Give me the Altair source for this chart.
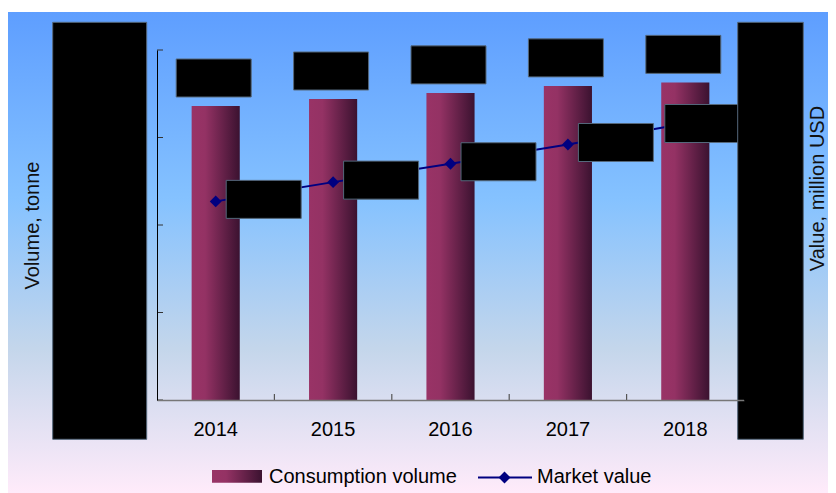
import altair as alt
import pandas as pd

# ---- data ----
years = ["2014", "2015", "2016", "2017", "2018"]
volume = [33600, 34400, 35100, 35900, 36300]      # Consumption volume, tonne
value = [227, 249, 270, 292, 316]                 # Market value, million USD
vol_ticks = [0, 10000, 20000, 30000, 40000]
val_ticks = [0, 100, 200, 300, 400]

FONT = "Liberation Sans"
W, H = 587, 350
PAD = {"left": 149, "top": 42, "right": 84, "bottom": 93}
STEP = W / len(years)

df = pd.DataFrame({"year": years, "volume": volume, "value": value})
tick_df = pd.DataFrame({"t": vol_ticks})
bound_df = pd.DataFrame({"year": years[1:]})
one = pd.DataFrame({"k": [0]})

bg_grad = alt.LinearGradient(
    gradient="linear", x1=0, x2=0, y1=0, y2=1,
    stops=[alt.GradientStop(color="#5E9EFF", offset=0),
           alt.GradientStop(color="#85C2FF", offset=0.39),
           alt.GradientStop(color="#C4D6EB", offset=0.70),
           alt.GradientStop(color="#FFEBFA", offset=1)])
bar_grad = alt.LinearGradient(
    gradient="linear", x1=0, x2=1, y1=0, y2=0,
    stops=[alt.GradientStop(color="#993366", offset=0),
           alt.GradientStop(color="#943264", offset=0.28),
           alt.GradientStop(color="#3B1230", offset=1)])

RECT = "M-1,-0.5067H1V0.5067H-1Z"
BOX_STROKE = "#55687c"

x_axis = alt.Axis(title=None, labelFont=FONT, labelFontSize=20, labelColor="#000000",
                  labelAngle=0, labelPadding=35, labelBaseline="alphabetic",
                  ticks=False, tickSize=0, domainColor="#777777", domainWidth=1.5,
                  grid=False, zindex=1)
xs = alt.X("year:N", sort=years,
           scale=alt.Scale(paddingInner=0.59, paddingOuter=0.295), axis=x_axis)

vol_scale = alt.Scale(domain=[0, 40000], nice=False, zero=True)
val_scale = alt.Scale(domain=[0, 400], nice=False, zero=True)

left_axis = alt.Axis(orient="left", values=vol_ticks, format="d", grid=False,
                     ticks=False, tickSize=0, labelPadding=14, labelFont=FONT,
                     labelFontSize=20, labelColor="#000000", domainColor="#000000",
                     domainWidth=1, title="Volume, tonne", titleFont=FONT,
                     titleFontSize=20, titleFontWeight="normal", titleColor="#111111",
                     titleAngle=270, titleX=-125, titleY=175, titleAlign="center",
                     titleBaseline="middle", zindex=1)
right_axis = alt.Axis(orient="right", values=val_ticks, format="d", grid=False,
                      ticks=False, tickSize=0, labelPadding=8, labelFont=FONT,
                      labelFontSize=20, labelColor="#000000", domainColor="#000000",
                      title="Value, million USD", titleFont=FONT, titleFontSize=20,
                      titleFontWeight="normal", titleColor="#111111", titleAngle=270,
                      titleX=73, titleY=138, titleAlign="center",
                      titleBaseline="middle", zindex=1)

# background
bg = alt.Chart(one).mark_rect(color=bg_grad).encode(
    x=alt.value(-PAD["left"]), x2=alt.value(W + PAD["right"]),
    y=alt.value(-38), y2=alt.value(H + PAD["bottom"]))

bars = alt.Chart(df).mark_bar(color=bar_grad).encode(
    x=xs, y=alt.Y("volume:Q", scale=vol_scale, axis=left_axis))
yticks = alt.Chart(tick_df).mark_rule(color="#333333", strokeWidth=1).encode(
    y=alt.Y("t:Q", scale=vol_scale, axis=None), x=alt.value(0), x2=alt.value(6))
xticks = alt.Chart(bound_df).mark_rule(color="#555555", strokeWidth=1.2,
                                       xOffset=-STEP / 2).encode(
    x=xs, y=alt.value(H), y2=alt.value(H - 6))
bar_boxes = alt.Chart(df).mark_point(shape=RECT, size=5625, filled=True, color="black",
                                     stroke=BOX_STROKE, strokeWidth=1, opacity=1,
                                     xOffset=-2, yOffset=-28).encode(
    x=xs, y=alt.Y("volume:Q", scale=vol_scale, axis=None))

line = alt.Chart(df).mark_line(color="#000080", strokeWidth=2).encode(
    x=xs, y=alt.Y("value:Q", scale=val_scale, axis=right_axis))
pts = alt.Chart(df).mark_point(shape="diamond", size=140, filled=True,
                               color="#000080", opacity=1).encode(
    x=xs, y=alt.Y("value:Q", scale=val_scale, axis=None))
lbox_a = alt.Chart(df).transform_filter("datum.year != '2018'").mark_point(
    shape=RECT, size=5625, filled=True, color="black", stroke=BOX_STROKE,
    strokeWidth=1, opacity=1, xOffset=48, yOffset=-2).encode(
    x=xs, y=alt.Y("value:Q", scale=val_scale, axis=None))
lbox_b = alt.Chart(df).transform_filter("datum.year == '2018'").mark_point(
    shape=RECT, size=5625, filled=True, color="black", stroke=BOX_STROKE,
    strokeWidth=1, opacity=1, xOffset=17, yOffset=0).encode(
    x=xs, y=alt.Y("value:Q", scale=val_scale, axis=None))

# axis-label masks
mask_l = alt.Chart(one).mark_rect(color="black", stroke=BOX_STROKE, strokeWidth=1).encode(
    x=alt.value(-104.3), x2=alt.value(-10.3), y=alt.value(-27.7), y2=alt.value(389.3))
mask_r = alt.Chart(one).mark_rect(color="black", stroke=BOX_STROKE, strokeWidth=1).encode(
    x=alt.value(580.7), x2=alt.value(646.3), y=alt.value(-27.7), y2=alt.value(389.3))

# legend
lg_sw = alt.Chart(one).mark_rect(color=bar_grad).encode(
    x=alt.value(55), x2=alt.value(105), y=alt.value(420), y2=alt.value(432.7))
lg_t1 = alt.Chart(one).mark_text(align="left", baseline="alphabetic", font=FONT,
                                 fontSize=20, color="#000000").encode(
    x=alt.value(112), y=alt.value(433), text=alt.value("Consumption volume"))
lg_ln = alt.Chart(one).mark_rule(color="#000080", strokeWidth=2).encode(
    x=alt.value(321), x2=alt.value(375), y=alt.value(427.5))
lg_pt = alt.Chart(one).mark_point(shape="diamond", size=140, filled=True,
                                  color="#000080", opacity=1).encode(
    x=alt.value(347.5), y=alt.value(427.5))
lg_t2 = alt.Chart(one).mark_text(align="left", baseline="alphabetic", font=FONT,
                                 fontSize=20, color="#000000").encode(
    x=alt.value(380), y=alt.value(433), text=alt.value("Market value"))

chart = alt.layer(
    bg, bars, yticks, xticks, bar_boxes, line, pts, lbox_a, lbox_b,
    mask_l, mask_r, lg_sw, lg_t1, lg_ln, lg_pt, lg_t2
).resolve_scale(y="independent").properties(
    width=W, height=H, autosize="none", padding=PAD,
).configure_view(strokeWidth=0).configure_axis(grid=False)

chart.save("out.html", embed_options={"renderer": "svg", "actions": False})
